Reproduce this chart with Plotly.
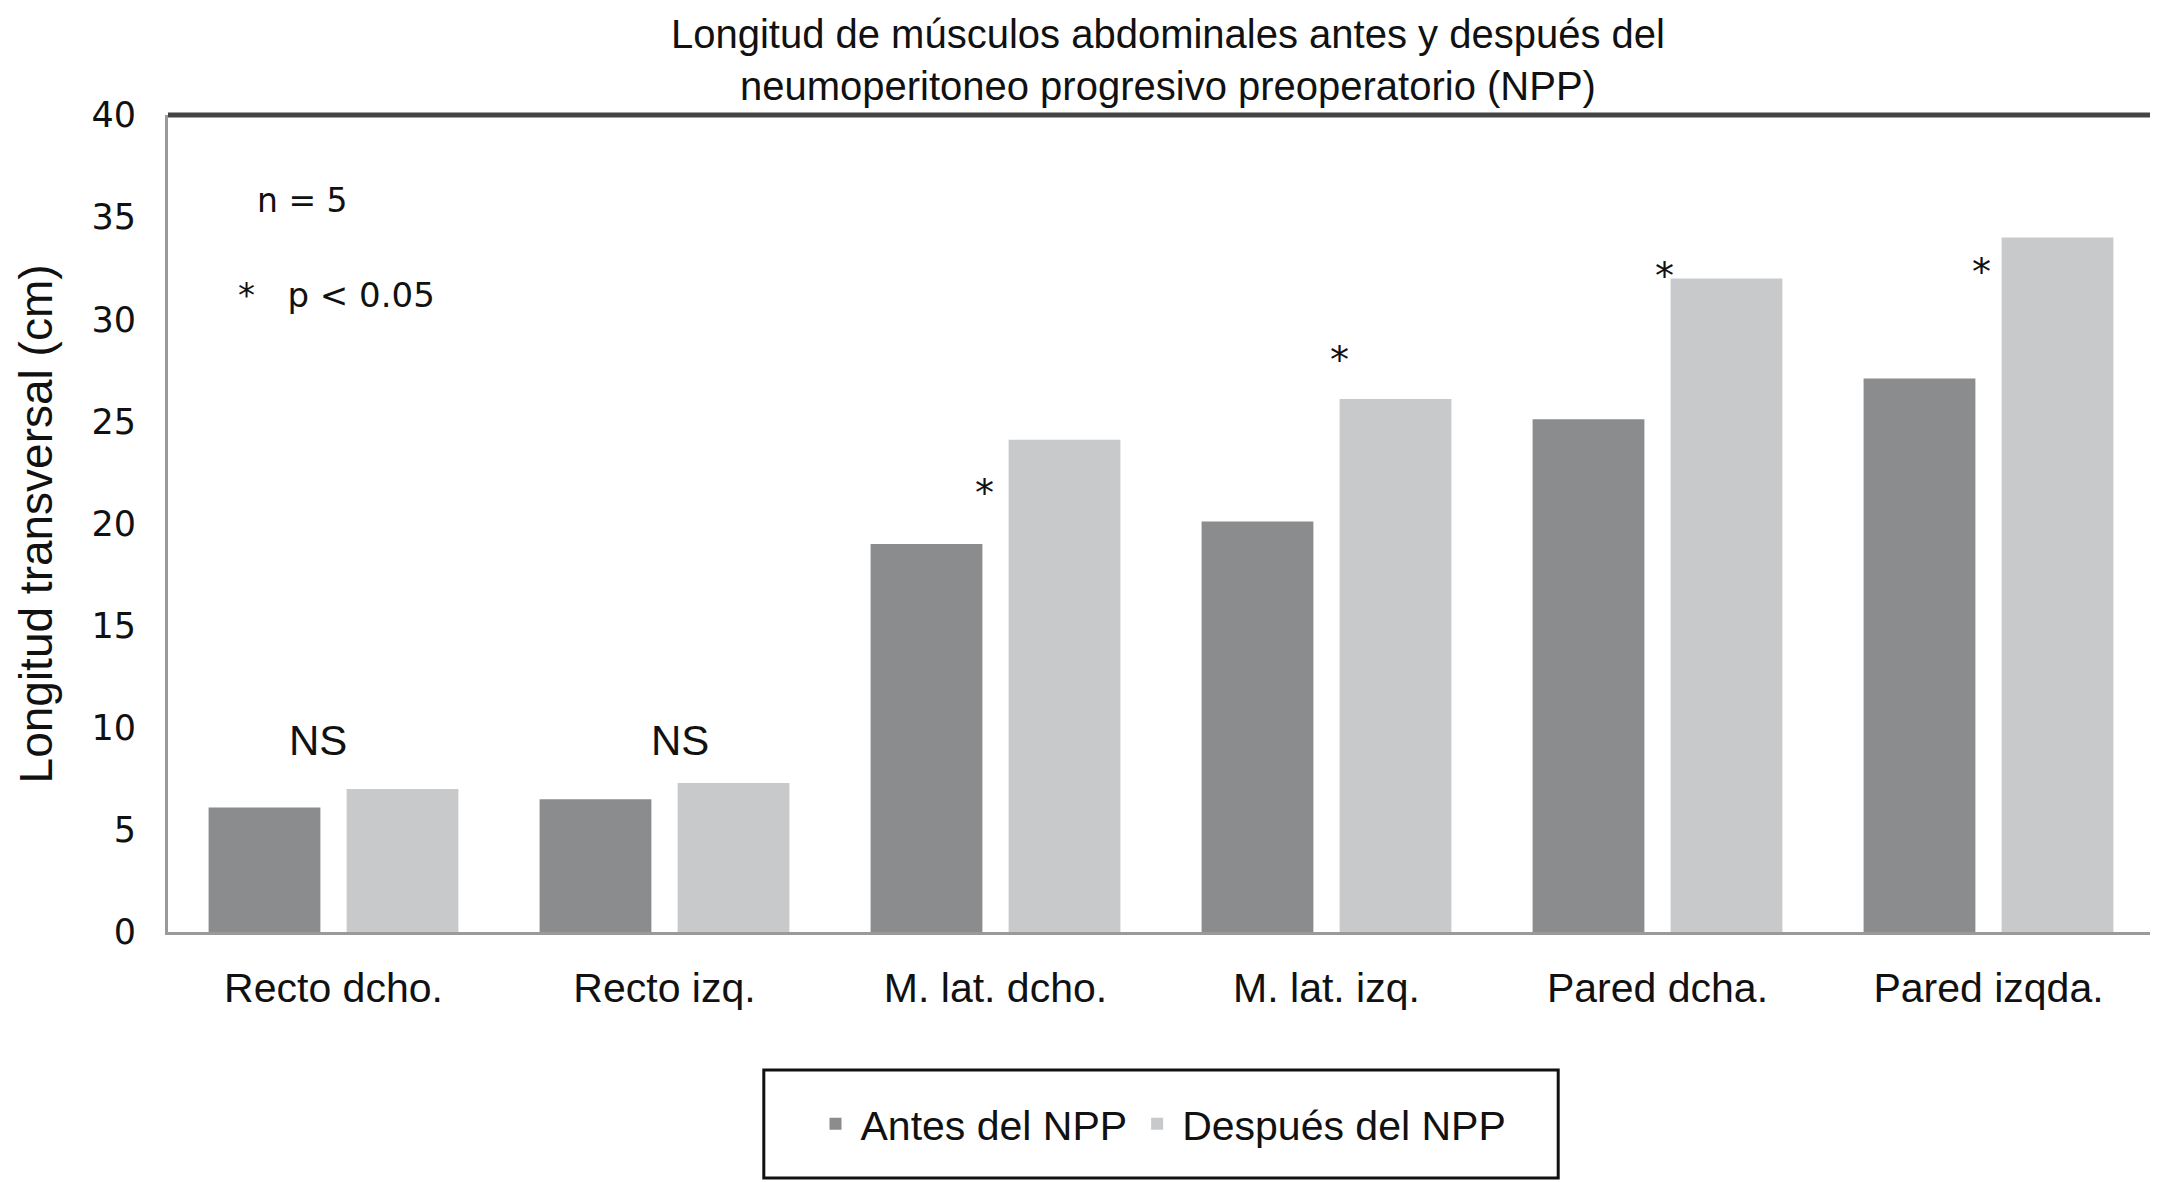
import plotly.graph_objects as go

categories = ["Recto dcho.", "Recto izq.", "M. lat. dcho.", "M. lat. izq.", "Pared dcha.", "Pared izqda."]
antes = [6.1, 6.5, 19.0, 20.1, 25.1, 27.1]
despues = [7.0, 7.3, 24.1, 26.1, 32.0, 34.0]
series_names = ["Antes del NPP", "Después del NPP"]
y_ticks = [0, 5, 10, 15, 20, 25, 30, 35, 40]

# significance marks: (category index offset, y value, text)
marks_x = [-0.047, 1.047, 1.968, 3.038, 4.02, 4.98]
marks_y = [9.4, 9.4, 21.9, 28.4, 32.5, 32.7]
marks_text = ["NS", "NS", "*", "*", "*", "*"]

title_text = "Longitud de músculos abdominales antes y después del<br>neumoperitoneo progresivo preoperatorio (NPP)"
ytitle = "Longitud transversal (cm)"

NARROW = "Liberation Sans, Arial, sans-serif"
WIDE = "DejaVu Sans, Verdana, sans-serif"

fig = go.Figure()
fig.add_trace(go.Bar(x=categories, y=antes, name=series_names[0],
                     marker=dict(color="#8b8c8e", line=dict(width=0))))
fig.add_trace(go.Bar(x=categories, y=despues, name=series_names[1],
                     marker=dict(color="#c8c9cb", line=dict(width=0))))

annotations = []
for xv, yv, t in zip(marks_x, marks_y, marks_text):
    if t == "NS":
        annotations.append(dict(x=xv, y=yv, xref="x", yref="y", text=t, showarrow=False,
                                font=dict(family=NARROW, size=42, color="#111"),
                                xanchor="center", yanchor="middle"))
    else:
        annotations.append(dict(x=xv, y=yv, xref="x", yref="y", text=t, showarrow=False,
                                font=dict(family=WIDE, size=38, color="#111"),
                                xanchor="center", yanchor="middle", yshift=-8))

annotations.append(dict(x=0.044, y=0.895, xref="paper", yref="paper", text="n = 5",
                        showarrow=False, font=dict(family=WIDE, size=33, color="#111"),
                        xanchor="left", yanchor="middle"))
annotations.append(dict(x=0.034, y=0.78, xref="paper", yref="paper", text="*&nbsp;&nbsp;&nbsp;p &lt; 0.05",
                        showarrow=False, font=dict(family=WIDE, size=34, color="#111"),
                        xanchor="left", yanchor="middle"))
annotations.append(dict(x=-0.0665, y=0.5, xref="paper", yref="paper", text=ytitle,
                        textangle=-90, showarrow=False, borderpad=0,
                        font=dict(family=NARROW, size=46, color="#111"),
                        xanchor="center", yanchor="middle"))

shapes = [
    dict(type="line", xref="paper", yref="paper", x0=0, x1=1, y0=1, y1=1,
         line=dict(color="#444444", width=5)),
    dict(type="line", xref="paper", yref="paper", x0=1, x1=1, y0=0, y1=1,
         line=dict(color="#2a2a2a", width=3)),
    dict(type="rect", xref="paper", yref="paper", x0=0.300, x1=0.700, y0=-0.301, y1=-0.169,
         line=dict(color="#111", width=3), fillcolor="rgba(0,0,0,0)"),
]

fig.update_layout(
    width=2150, height=1174,
    margin=dict(l=160, r=4, t=107, b=250),
    paper_bgcolor="white", plot_bgcolor="white",
    barmode="group", bargap=0.166, bargroupgap=0.19,
    title=dict(text=title_text, x=0.5395, xanchor="center", y=0.966, yanchor="middle",
               yref="container", font=dict(family=NARROW, size=40, color="#111")),
    showlegend=True,
    legend=dict(orientation="h", x=0.5, xanchor="center", y=-0.235, yanchor="middle",
                font=dict(family=NARROW, size=41, color="#111"),
                bgcolor="rgba(0,0,0,0)", borderwidth=0, itemwidth=40),
    annotations=annotations,
    shapes=shapes,
    xaxis=dict(showline=True, linecolor="#9a9a9a", linewidth=3, showgrid=False,
               ticks="", tickfont=dict(family=NARROW, size=41, color="#111"),
               ticklabelstandoff=18, zeroline=False),
    yaxis=dict(range=[0, 40], tickvals=y_ticks, showline=True, linecolor="#9a9a9a",
               linewidth=3, showgrid=False, ticks="", zeroline=False,
               tickfont=dict(family=WIDE, size=35, color="#111"),
               ticklabelstandoff=22),
)

fig.write_html("out.html")
